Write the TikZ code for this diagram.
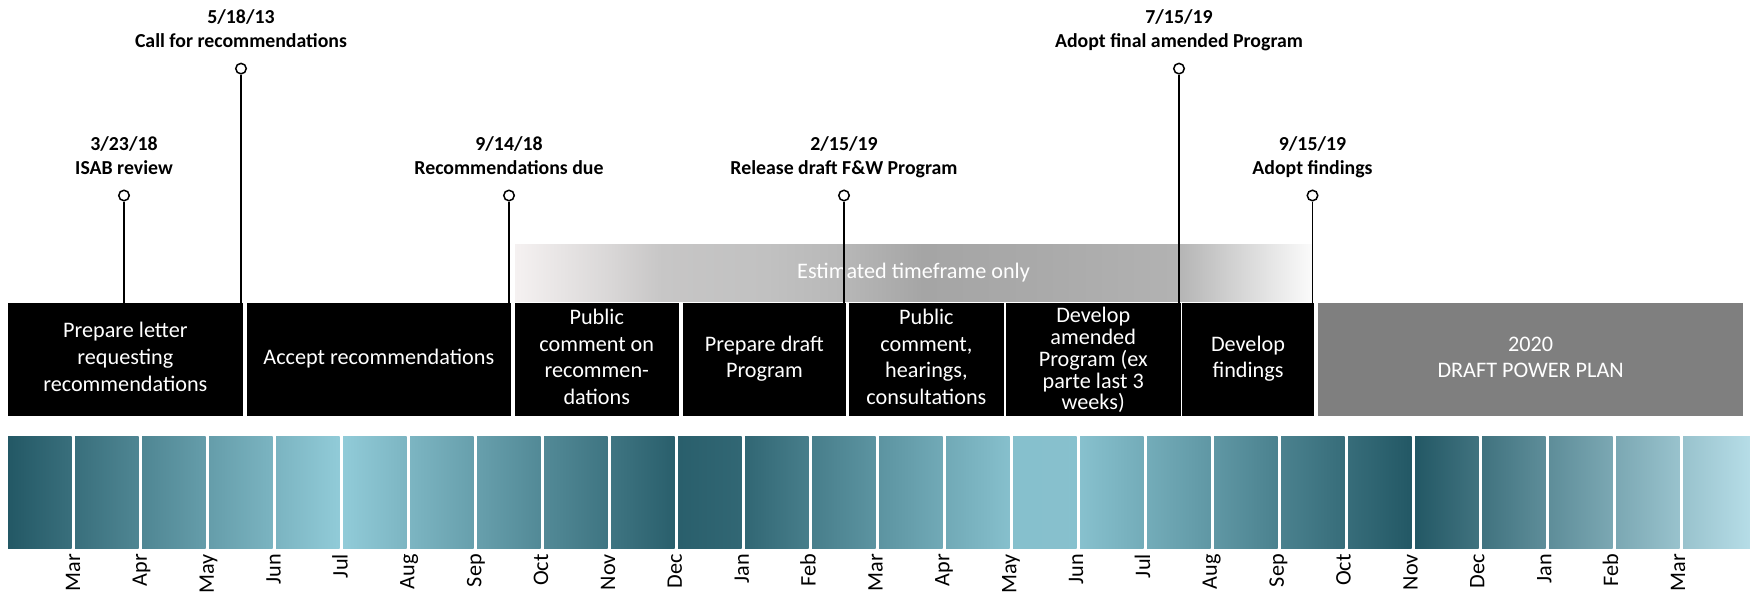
\documentclass[tikz,border=0pt]{standalone}
\usepackage{fontspec}
\setmainfont{Carlito}
\definecolor{D}{RGB}{35,88,101}
\definecolor{L}{RGB}{145,203,216}
\definecolor{F}{RGB}{182,221,231}
\definecolor{plangray}{HTML}{7F7F7F}
\definecolor{tf0}{HTML}{F5F1F1}
\definecolor{tf1}{HTML}{D9D7D7}
\definecolor{tf2}{HTML}{C7C6C6}
\definecolor{tf3}{HTML}{C1C1C1}
\definecolor{tf4}{HTML}{B8B8B8}
\definecolor{tf5}{HTML}{A5A5A5}
\definecolor{tf6}{HTML}{A9A9A9}
\definecolor{tf7}{HTML}{B2B2B2}
\definecolor{tf8}{HTML}{D4D4D4}
\definecolor{tf9}{HTML}{FBFBFB}
\pgfdeclarehorizontalshading{tfshade}{100bp}{color(0bp)=(tf0); color(25bp)=(tf0); color(30.95bp)=(tf1); color(34.2bp)=(tf2); color(40.75bp)=(tf3); color(45.4bp)=(tf4); color(50.6bp)=(tf5); color(57.2bp)=(tf6); color(66.35bp)=(tf7); color(70.3bp)=(tf8); color(75bp)=(tf9); color(100bp)=(tf9)}
\begin{document}
\begin{tikzpicture}[x=1pt,y=-1pt,
  taskbox/.style={fill=black, text=white, inner sep=0pt, minimum height=112.8pt, align=center, font=\fontsize{22.2}{26.7}\selectfont},
  planbox/.style={taskbox, fill=plangray},
  boxtext/.style={text=white, inner sep=0pt, align=center, font=\fontsize{22.2}{21.8}\selectfont},
  mcell/.style={inner sep=0pt, minimum height=112.5pt, minimum width=63.5pt},
  mlabel/.style={rotate=90, anchor=base east, inner sep=0pt, font=\fontsize{22.2}{26.7}\selectfont},
  pin/.style={circle, draw=black, fill=white, line width=1.5pt, minimum size=10.5pt, inner sep=0pt},
  stem/.style={line width=1.5pt, draw=black},
  mtext/.style={align=center, inner sep=0pt, font=\bfseries\fontsize{19.8}{23.7}\selectfont},
  bar/.style={shade, shading=tfshade, inner sep=0pt, minimum width=797pt, minimum height=57pt, text=white, font=\fontsize{22.2}{26.7}\selectfont}]
\useasboundingbox (0,0) rectangle (1750,595);

% month cells
\foreach \i/\a/\b/\C in {0/0/20/L,1/20/40/L,2/40/60/L,3/60/80/L,4/80/100/L,5/100/81/L,6/81/62/L,7/62/43/L,8/43/25/L,9/25/6/L,10/6/13/L,11/13/33/L,12/33/52/L,13/52/71/L,14/71/90/L,15/90/91/L,16/91/73/L,17/73/55/L,18/55/36/L,19/36/18/L,20/18/0/L,21/0/20/F,22/20/40/F,23/40/60/F,24/60/80/F}
  \node[mcell, left color=\C!\a!D, right color=\C!\b!D] (c\i) at ({39.75+67*\i},492.25) {};
\node[mcell, minimum width=67pt, left color=F!80!D, right color=F] (c25) at (1716.5,492.25) {};

% month labels
\foreach \m [count=\i from 0] in {Mar,Apr,May,Jun,Jul,Aug,Sep,Oct,Nov,Dec,Jan,Feb,Mar,Apr,May,Jun,Jul,Aug,Sep,Oct,Nov,Dec,Jan,Feb,Mar}
  \node[mlabel] (l\i) at ({80+66.875*\i},554) {\m};

% task boxes
\node[taskbox, minimum width=235.3pt] (b1) at (125.35,359.1) {\strut Prepare letter\\\strut requesting\\\strut recommendations};
\node[taskbox, minimum width=264.4pt] (b2) at (378.8,359.1) {\strut Accept recommendations};
\node[taskbox, minimum width=163.5pt] (b3) at (596.75,359.1) {\strut Public\\\strut comment on\\\strut recommen-\\\strut dations};
\node[taskbox, minimum width=162.2pt] (b4) at (764.4,359.1) {\strut Prepare draft\\\strut Program};
\node[taskbox, minimum width=154.8pt] (b5) at (926.4,359.1) {\strut Public\\\strut comment,\\\strut hearings,\\\strut consultations};
\node[taskbox, minimum width=174.6pt] (b6) at (1093.2,359.1) {};
\node[boxtext] (b6t) at ([yshift=-1pt]b6.center) {Develop\\amended\\Program (ex\\parte last 3\\weeks)};
\node[taskbox, minimum width=131.1pt] (b7) at (1248,359.1) {\strut Develop\\\strut findings};
\node[planbox, minimum width=424.8pt] (b8) at (1530.6,359.1) {\strut 2020\\\strut DRAFT POWER PLAN};

% estimated timeframe bar
\node[bar] (tf) at (913.5,272.5) {Estimated timeframe only};

% milestones
\node[pin] (p1) at (124,195.5) {};
\node[pin] (p2) at (241,68.6) {};
\node[pin] (p3) at (509,195.5) {};
\node[pin] (p4) at (844,195.5) {};
\node[pin] (p5) at (1179,68.6) {};
\node[pin] (p6) at (1312.5,195.5) {};

\draw[stem] (p1.south) -- (p1.south |- b1.north);
\draw[stem] (p2.south) -- (p2.south |- b1.north);
\draw[stem] (p3.south) -- (p3.south |- b2.north);
\draw[stem] (p4.south) -- (p4.south |- b4.north);
\draw[stem] (p5.south) -- (p5.south |- b6.north);
\draw[stem] (p6.south) -- (p6.south |- b7.north);

\node[mtext] (t1) at (124,157.5) {\strut 3/23/18\\\strut ISAB review};
\node[mtext] (t2) at (241,30.5) {\strut 5/18/13\\\strut Call for recommendations};
\node[mtext] (t3) at (509,157.5) {\strut 9/14/18\\\strut Recommendations due};
\node[mtext] (t4) at (844,157.5) {\strut 2/15/19\\\strut Release draft F\&W Program};
\node[mtext] (t5) at (1179,30.5) {\strut 7/15/19\\\strut Adopt final amended Program};
\node[mtext] (t6) at (1312.5,157.5) {\strut 9/15/19\\\strut Adopt findings};
\end{tikzpicture}
\end{document}
